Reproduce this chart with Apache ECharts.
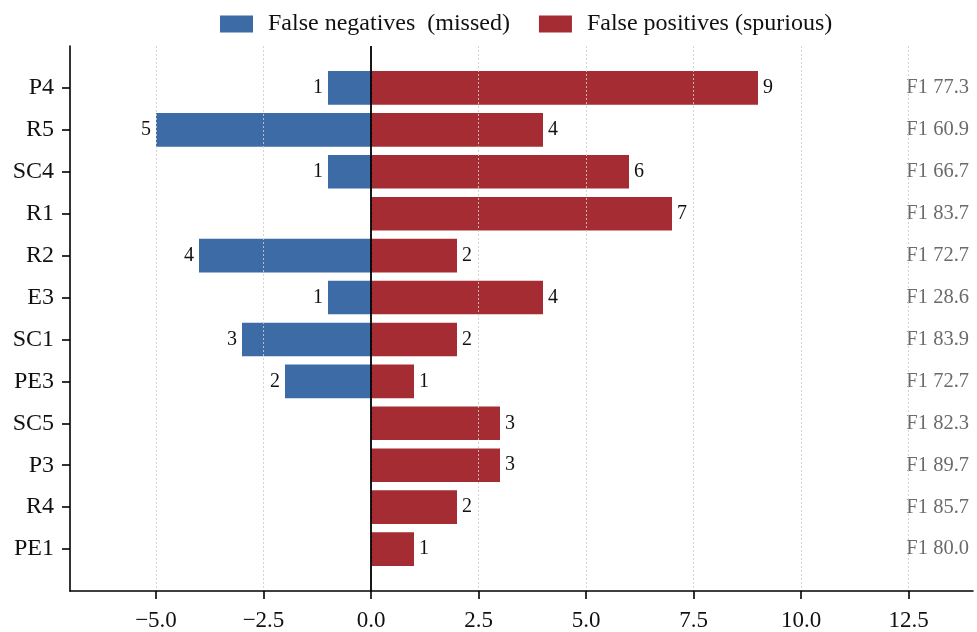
<!DOCTYPE html>
<html>
<head>
<meta charset="utf-8">
<script src="https://cdn.jsdelivr.net/npm/echarts@6/dist/echarts.min.js"></script>
<style>
  html, body { margin: 0; padding: 0; background: #fff; }
  #chart { width: 977px; height: 632px; }
</style>
</head>
<body>
<div id="chart"></div>
<script>
const categories = ['P4', 'R5', 'SC4', 'R1', 'R2', 'E3', 'SC1', 'PE3', 'SC5', 'P3', 'R4', 'PE1'];
const falseNegatives = [1, 5, 1, 0, 4, 1, 3, 2, 0, 0, 0, 0];
const falsePositives = [9, 4, 6, 7, 2, 4, 2, 1, 3, 3, 2, 1];
const f1Scores = [77.3, 60.9, 66.7, 83.7, 72.7, 28.6, 83.9, 72.7, 82.3, 89.7, 85.7, 80.0];
const xTicks = [-5, -2.5, 0, 2.5, 5, 7.5, 10, 12.5];

const FONT = 'Liberation Serif';
const BLUE = '#3D6BA5';
const RED = '#A52C33';

// pad with one empty slot on each side (matplotlib-like margins)
const cats = [''].concat(categories, ['']);
const f1Labels = [''].concat(f1Scores.map(v => 'F1 ' + v.toFixed(1)), ['']);
const fnData = [null].concat(falseNegatives.map(v => v === 0 ? null : -v), [null]);
const fpData = [null].concat(falsePositives.map(v => v === 0 ? null : v), [null]);
const n = cats.length;

const chart = echarts.init(document.getElementById('chart'), null, { renderer: 'canvas' });

const fmtTick = v => (v < 0 ? '\u2212' : '') + Math.abs(v).toFixed(1);

chart.setOption({
  animation: false,
  backgroundColor: '#fff',
  textStyle: { fontFamily: FONT },
  legend: {
    left: 215,
    top: 7,
    icon: 'rect',
    itemWidth: 33,
    itemHeight: 17,
    itemGap: 29,
    textStyle: { fontFamily: FONT, fontSize: 24, color: '#111', padding: [0, 0, 0, 10] },
    data: ['False negatives  (missed)', 'False positives (spurious)']
  },
  grid: { left: 70, right: 4, top: 46, bottom: 40, containLabel: false },
  xAxis: {
    type: 'value',
    min: -7,
    max: 14,
    z: 3,
    axisLine: { show: true, onZero: false, lineStyle: { color: '#000', width: 1.6 } },
    axisTick: { show: true, length: 8, lineStyle: { color: '#000', width: 1.6 }, customValues: xTicks },
    axisLabel: { customValues: xTicks, formatter: fmtTick, fontFamily: FONT, fontSize: 23, color: '#111', margin: 18 },
    splitLine: { show: true, lineStyle: { color: 'rgba(205,205,205,0.85)', type: [2, 2], width: 1 } }
  },
  yAxis: [
    {
      type: 'category',
      data: cats,
      inverse: true,
      boundaryGap: false,
      axisLine: { show: true, onZero: false, lineStyle: { color: '#000', width: 1.6 } },
      axisTick: { show: true, length: 8, interval: (i) => i > 0 && i < n - 1, lineStyle: { color: '#000', width: 1.6 } },
      axisLabel: { interval: 0, fontFamily: FONT, fontSize: 24, color: '#111', margin: 16 },
      splitLine: { show: false }
    },
    {
      type: 'category',
      data: f1Labels,
      inverse: true,
      boundaryGap: false,
      position: 'right',
      axisLine: { show: false },
      axisTick: { show: false },
      axisLabel: { inside: true, interval: 0, fontFamily: FONT, fontSize: 20.5, color: '#6b6b6b', margin: 4 },
      splitLine: { show: false }
    }
  ],
  series: [
    {
      name: 'False negatives  (missed)',
      type: 'bar',
      stack: 'err',
      barWidth: 33.6,
      itemStyle: { color: BLUE },
      label: {
        show: true,
        position: 'left',
        distance: 5,
        fontFamily: FONT,
        fontSize: 20,
        color: '#111',
        formatter: p => (p.value == null ? '' : String(Math.abs(p.value)))
      },
      data: fnData,
      markLine: {
        silent: true,
        symbol: 'none',
        label: { show: false },
        lineStyle: { color: '#000', width: 1.8, type: 'solid' },
        data: [{ xAxis: 0 }]
      }
    },
    {
      name: 'False positives (spurious)',
      type: 'bar',
      stack: 'err',
      barWidth: 33.6,
      itemStyle: { color: RED },
      label: {
        show: true,
        position: 'right',
        distance: 5,
        fontFamily: FONT,
        fontSize: 20,
        color: '#111',
        formatter: p => (p.value == null ? '' : String(p.value))
      },
      data: fpData
    }
  ]
});
</script>
</body>
</html>
